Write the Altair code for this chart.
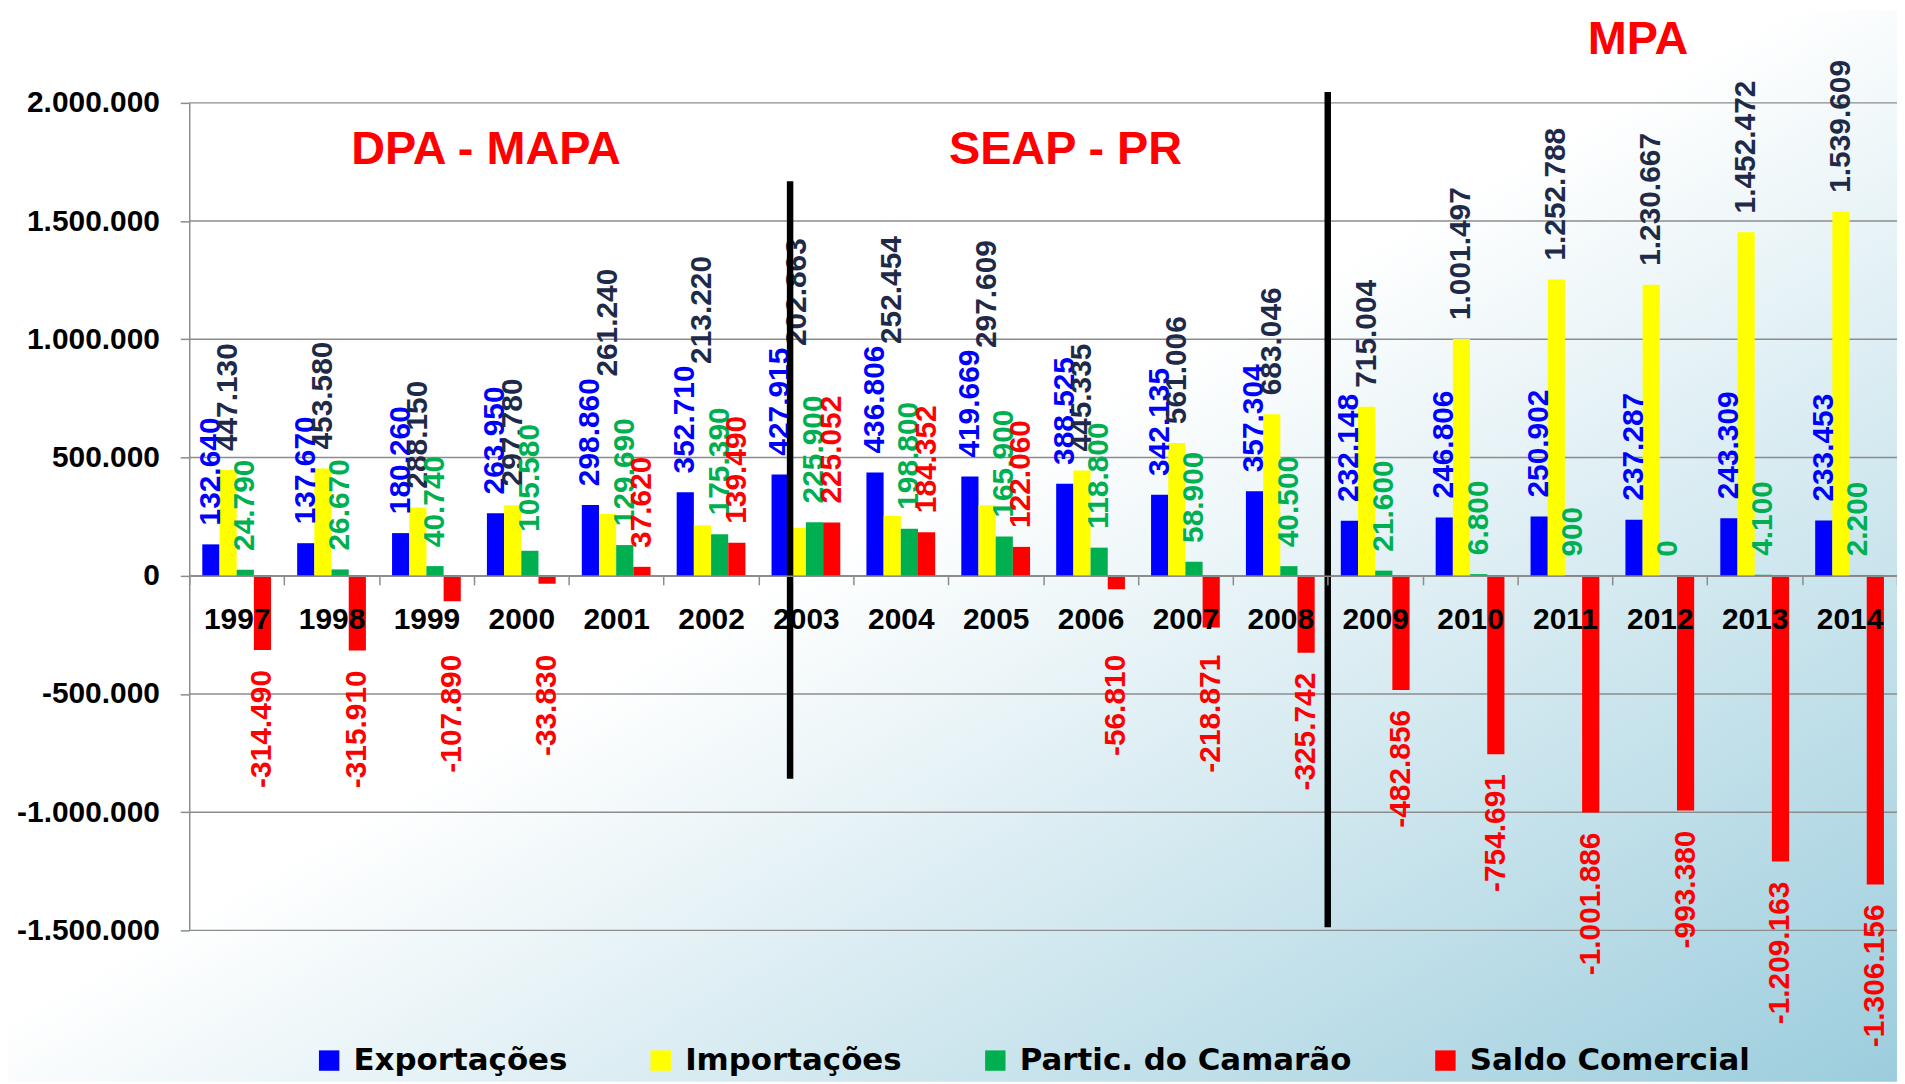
import altair as alt
import pandas as pd

YEARS = [str(y) for y in range(1997, 2015)]
SERIES = ["Exportações", "Importações", "Partic. do Camarão", "Saldo Comercial"]
EXPORTACOES = [132640, 137670, 180260, 263950, 298860, 352710, 427915, 436806, 419669,
               388525, 342135, 357304, 232148, 246806, 250902, 237287, 243309, 233453]
IMPORTACOES = [447130, 453580, 288150, 297780, 261240, 213220, 202863, 252454, 297609,
               445335, 561006, 683046, 715004, 1001497, 1252788, 1230667, 1452472, 1539609]
PARTIC_CAMARAO = [24790, 26670, 40740, 105580, 129690, 175390, 225900, 198800, 165900,
                  118800, 58900, 40500, 21600, 6800, 900, 0, 4100, 2200]
SALDO_COMERCIAL = [-314490, -315910, -107890, -33830, 37620, 139490, 225052, 184352, 122060,
                   -56810, -218871, -325742, -482856, -754691, -1001886, -993380, -1209163, -1306156]
BAR_COLORS = ["#0000FF", "#FFFF00", "#00B050", "#FF0000"]
LABEL_COLORS = ["#0000FF", "#1F2A48", "#00B050", "#FF0000"]
Y_TICKS = [-1500000, -1000000, -500000, 0, 500000, 1000000, 1500000, 2000000]
PERIOD_TITLES = ["DPA - MAPA", "SEAP - PR", "MPA"]
DIVIDER_YEARS = ["2003", "2009"]
DIVIDER_TOP = [1668000, 2046000]
DIVIDER_BOTTOM = [-859000, -1487000]

rows = []
for i, yr in enumerate(YEARS):
    for s, vals, lc in zip(SERIES, [EXPORTACOES, IMPORTACOES, PARTIC_CAMARAO, SALDO_COMERCIAL], LABEL_COLORS):
        rows.append({"year": yr, "series": s, "value": vals[i], "lc": lc})
df = pd.DataFrame(rows)

W, H = 1715, 831
FONT = "Liberation Sans"
GRID = "#8c8c8c"
FMT = "replace(replace(format(datum.value, ','), regexp(',', 'g'), '.'), '\u2212', '-')"

X_SCALE = alt.Scale(domain=YEARS, paddingInner=0, paddingOuter=0)
Y_SCALE = alt.Scale(domain=[-1500000, 2000000], nice=False, zero=False)
X_AXIS = alt.Axis(title=None, orient="bottom", offset=-356, zindex=1, grid=False,
                  domainColor=GRID, domainWidth=1.5, tickBand="extent", tickColor=GRID,
                  tickWidth=1.5, tickSize=9, labelFont=FONT, labelFontSize=30,
                  labelFontWeight="bold", labelColor="black", labelPadding=20, labelAngle=0)
Y_AXIS = alt.Axis(title=None, values=Y_TICKS, grid=False, zindex=1, domainColor=GRID,
                  domainWidth=1.5, tickColor=GRID, tickWidth=1.5, tickSize=9,
                  labelFont=FONT, labelFontSize=30, labelFontWeight="bold",
                  labelColor="black", labelPadding=21, labelExpr=FMT)

X_ENC = alt.X("year:N", scale=X_SCALE, axis=X_AXIS)
XOFF = alt.XOffset("series:N", scale=alt.Scale(domain=SERIES, paddingInner=0, paddingOuter=0.76))

background = alt.Chart(pd.DataFrame({"a": [0]})).mark_rect(
    color=alt.LinearGradient(
        gradient="linear", x1=0, y1=0, x2=1, y2=1,
        stops=[alt.GradientStop(color="#ffffff", offset=0),
               alt.GradientStop(color="#ffffff", offset=0.47),
               alt.GradientStop(color="#9ccddd", offset=1)])
).encode(x=alt.value(-182), x2=alt.value(W), y=alt.value(-93), y2=alt.value(H + 152))

grid = alt.Chart(pd.DataFrame({"v": Y_TICKS})).mark_rule(color=GRID, strokeWidth=1.5).encode(
    y=alt.Y("v:Q", scale=Y_SCALE, axis=Y_AXIS), x=alt.value(0), x2=alt.value(W))

base = alt.Chart(df).transform_calculate(
    ev="datum.series === 'Exportações' ? datum.value : 0",
    lbl=FMT,
).transform_joinaggregate(
    expv="max(ev)", groupby=["year"]
).transform_calculate(
    stk="datum.series === 'Importações' && datum.value < datum.expv",
    ny="min(datum.value, -250000)",
)

bars = base.mark_bar().encode(
    x=X_ENC, xOffset=XOFF,
    y=alt.Y("value:Q", scale=Y_SCALE, axis=Y_AXIS),
    color=alt.Color("series:N", scale=alt.Scale(domain=SERIES, range=BAR_COLORS),
                    legend=alt.Legend(orient="none", legendX=125, legendY=946,
                                      direction="horizontal", title=None,
                                      symbolType="square", symbolSize=420,
                                      symbolStrokeWidth=0, labelFont="DejaVu Sans",
                                      labelFontSize=31, labelFontWeight="bold",
                                      labelColor="black", labelLimit=600,
                                      columnPadding=78, labelOffset=9, zindex=1)),
)

TXT = dict(font=FONT, fontSize=30, fontWeight="bold", angle=270, baseline="middle")

pos_lbl = base.transform_filter("!datum.stk && datum.value >= 0").mark_text(
    align="left", dx=19, **TXT).encode(
    x=X_ENC, xOffset=XOFF, y=alt.Y("value:Q", scale=Y_SCALE, axis=Y_AXIS),
    text="lbl:N", color=alt.Color("lc:N", scale=None))

neg_lbl = base.transform_filter("datum.value < 0").mark_text(
    align="right", dx=-20, **TXT).encode(
    x=X_ENC, xOffset=XOFF, y=alt.Y("ny:Q", scale=Y_SCALE, axis=Y_AXIS),
    text="lbl:N", color=alt.Color("lc:N", scale=None))

stk_lbl = base.transform_filter("datum.stk").mark_text(
    align="left", dx=129, **TXT).encode(
    x=X_ENC, xOffset=XOFF, y=alt.Y("expv:Q", scale=Y_SCALE, axis=Y_AXIS),
    text="lbl:N", color=alt.Color("lc:N", scale=None))

div = pd.DataFrame({"year": DIVIDER_YEARS, "top": DIVIDER_TOP, "bottom": DIVIDER_BOTTOM})
div1 = alt.Chart(div).transform_filter("datum.year === '2003'").mark_rule(
    color="black", strokeWidth=6.5).encode(
    x=alt.X("year:N", scale=X_SCALE, axis=X_AXIS, bandPosition=0.333),
    y=alt.Y("top:Q", scale=Y_SCALE, axis=Y_AXIS), y2="bottom:Q")
div2 = alt.Chart(div).transform_filter("datum.year === '2009'").mark_rule(
    color="black", strokeWidth=6.5).encode(
    x=alt.X("year:N", scale=X_SCALE, axis=X_AXIS, bandPosition=0),
    y=alt.Y("top:Q", scale=Y_SCALE, axis=Y_AXIS), y2="bottom:Q")

TITLE_POS = [(298, 61), (880, 61), (1455, -49)]
titles = []
for t, (px, py) in zip(PERIOD_TITLES, TITLE_POS):
    titles.append(alt.Chart(pd.DataFrame({"t": [t]})).mark_text(
        font=FONT, fontSize=47, fontWeight="bold", color="#FF0000",
        align="center", baseline="alphabetic").encode(
        text="t:N", x=alt.value(px), y=alt.value(py)))

chart = alt.layer(background, grid, bars, pos_lbl, neg_lbl, stk_lbl, div1, div2, *titles).properties(
    width=W, height=H,
    padding={"left": 182, "top": 93, "right": 0, "bottom": 152},
    autosize=alt.AutoSizeParams(type="none"),
).configure_view(stroke=None)

chart.save("out.html", embed_options={"renderer": "svg", "actions": False})
